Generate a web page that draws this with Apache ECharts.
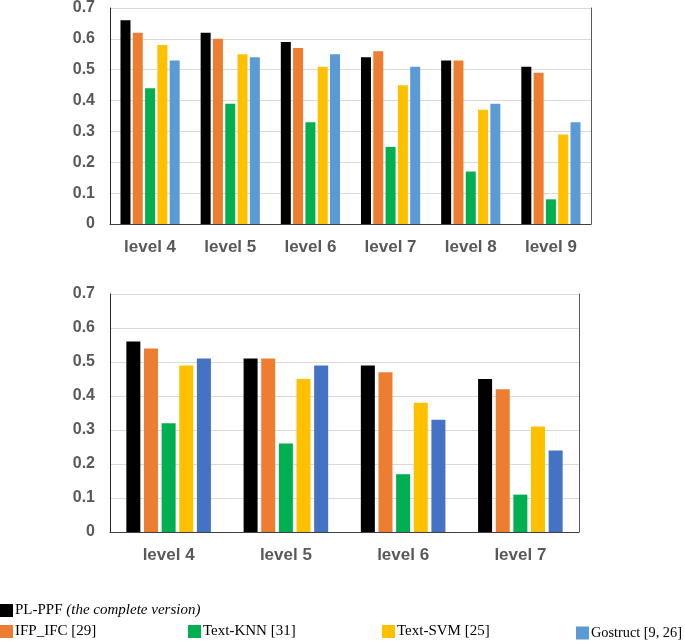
<!DOCTYPE html>
<html>
<head>
<meta charset="utf-8">
<script src="https://cdn.jsdelivr.net/npm/echarts@6/dist/echarts.min.js"></script>
<style>html,body{margin:0;padding:0;background:#fff;}#c{width:685px;height:642px;}</style>
</head>
<body>
<div id="c"></div>
<script>
const seriesNames = ['PL-PPF', 'IFP_IFC [29]', 'Text-KNN [31]', 'Text-SVM [25]', 'Gostruct [9, 26]'];
const topCategories = ['level 4', 'level 5', 'level 6', 'level 7', 'level 8', 'level 9'];
const topPLPPF   = [0.66, 0.62, 0.59, 0.54, 0.53, 0.51];
const topIFPIFC  = [0.62, 0.60, 0.57, 0.56, 0.53, 0.49];
const topTextKNN = [0.44, 0.39, 0.33, 0.25, 0.17, 0.08];
const topTextSVM = [0.58, 0.55, 0.51, 0.45, 0.37, 0.29];
const topGostruct= [0.53, 0.54, 0.55, 0.51, 0.39, 0.33];

const botCategories = ['level 4', 'level 5', 'level 6', 'level 7'];
const botPLPPF   = [0.56, 0.51, 0.49, 0.45];
const botIFPIFC  = [0.54, 0.51, 0.47, 0.42];
const botTextKNN = [0.32, 0.26, 0.17, 0.11];
const botTextSVM = [0.49, 0.45, 0.38, 0.31];
const botGostruct= [0.51, 0.49, 0.33, 0.24];

const yTicks = [0, 0.1, 0.2, 0.3, 0.4, 0.5, 0.6, 0.7];

const topColors = ['#000000', '#ED7D31', '#00B050', '#FFC000', '#5B9BD5'];
const botColors = ['#000000', '#ED7D31', '#00B050', '#FFC000', '#4472C4'];

const chart = echarts.init(document.getElementById('c'));
const labelStyle = {color: '#595959', fontWeight: 'bold', fontFamily: 'Liberation Sans, Arial, sans-serif'};

function xAxes(gridIndex, cats) {
  return [
    {type: 'category', gridIndex, data: cats, position: 'bottom',
     axisLine: {show: true, lineStyle: {color: '#d9d9d9', width: 1}},
     axisTick: {show: false},
     axisLabel: Object.assign({fontSize: 17, margin: 15}, labelStyle)},
    {type: 'category', gridIndex, data: cats, position: 'top',
     axisLine: {show: true, lineStyle: {color: '#404040', width: 1}},
     axisTick: {show: false}, axisLabel: {show: false}}
  ];
}
function yAxes(gridIndex) {
  return [
    {type: 'value', gridIndex, min: 0, max: 0.7, interval: 0.1, position: 'left',
     axisLine: {show: true, lineStyle: {color: '#262626', width: 1}},
     axisTick: {show: false},
     splitLine: {show: true, lineStyle: {color: '#d9d9d9', width: 1}},
     axisLabel: Object.assign({fontSize: 16, margin: 15,
       formatter: v => { const t = yTicks.find(x => Math.abs(x - v) < 1e-6); return t === 0 ? '0' : String(t); }}, labelStyle)},
    {type: 'value', gridIndex, min: 0, max: 0.7, interval: 0.1, position: 'right',
     axisLine: {show: true, lineStyle: {color: '#595959', width: 1}},
     axisTick: {show: false}, splitLine: {show: false}, axisLabel: {show: false}}
  ];
}

const topData = [topPLPPF, topIFPIFC, topTextKNN, topTextSVM, topGostruct];
const botData = [botPLPPF, botIFPIFC, botTextKNN, botTextSVM, botGostruct];

const series = [];
topData.forEach((d, i) => series.push({
  type: 'bar', name: seriesNames[i], xAxisIndex: 0, yAxisIndex: 0, data: d,
  barWidth: 10, barGap: '23%', itemStyle: {color: topColors[i]}
}));
botData.forEach((d, i) => series.push({
  type: 'bar', name: seriesNames[i], xAxisIndex: 2, yAxisIndex: 2, data: d,
  barWidth: 14, barGap: '26%', itemStyle: {color: botColors[i]}
}));

const legendText = {color: '#000', fontSize: 15, fontFamily: 'Liberation Serif, Times New Roman, serif', padding: [0, 0, 0, -3]};
function legend(name, left, top, extra) {
  return Object.assign({
    data: [name], left, top, padding: 0, itemWidth: 13, itemHeight: 13, icon: 'rect',
    selectedMode: false, textStyle: legendText
  }, extra || {});
}

chart.setOption({
  animation: false,
  grid: [
    {left: 110, top: 6, width: 481, height: 218},
    {left: 110, top: 294, width: 469, height: 238}
  ],
  xAxis: [...xAxes(0, topCategories), ...xAxes(1, botCategories)],
  yAxis: [...yAxes(0), ...yAxes(1)],
  legend: [
    legend(seriesNames[0], 0, 603, {
      formatter: '{n|PL-PPF} {i|(the complete version)}',
      textStyle: Object.assign({}, legendText, {rich: {
        n: {fontSize: 15, fontFamily: 'Liberation Serif, Times New Roman, serif', color: '#000'},
        i: {fontSize: 15, fontStyle: 'italic', fontFamily: 'Liberation Serif, Times New Roman, serif', color: '#000'}
      }})
    }),
    legend(seriesNames[1], 0, 624),
    legend(seriesNames[2], 188, 624),
    legend(seriesNames[3], 382, 624),
    legend(seriesNames[4], 576, 626, {textStyle: Object.assign({}, legendText, {fontSize: 14.3})})
  ],
  series
});
</script>
</body>
</html>
